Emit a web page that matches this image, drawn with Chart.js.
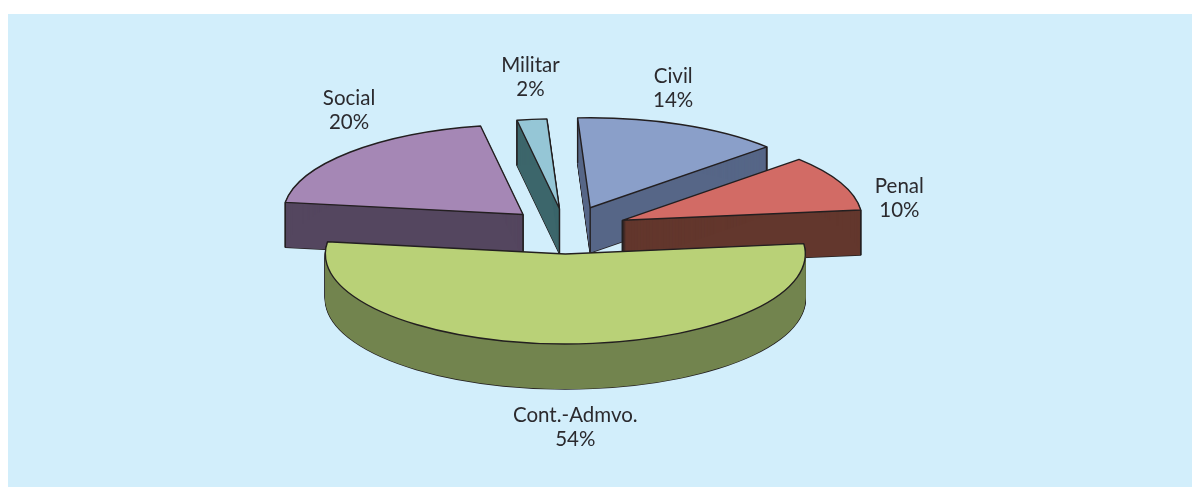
<!DOCTYPE html>
<html>
<head>
<meta charset="utf-8">
<style>
html,body{margin:0;padding:0;background:#fff;width:1192px;height:487px;overflow:hidden}
#panel{position:absolute;left:8px;top:14px;right:0;bottom:0;background:#d2eefb}
#wrap{position:absolute;left:0;top:0;width:1192px;height:487px}
</style>
<script src="https://cdn.jsdelivr.net/npm/chart.js@4"></script>
</head>
<body>
<div id="panel"></div>
<div id="wrap"><canvas id="c" width="1192" height="487"></canvas></div>
<script>
const categories = ['Social', 'Militar', 'Civil', 'Penal', 'Cont.-Admvo.'];
const shares = [20, 2, 14, 10, 54];
const topColors = ['#a587b5', '#95c6d6', '#8a9fc9', '#d26b65', '#b9d177'];
const sideColors = ['#54465f', '#3c666b', '#566687', '#63372d', '#72844e'];
const explode = [238, 228, 256, 248, 256];
const labelDx = [-174, -29, 83, 277, 10];
const labelDy = [-116, -143, -131, -34, 161];

const tilt = 0.375, depth = 45;
const outline = '#231f20';

function sector(ctx, el, dz) {
  const mid = (el.startAngle + el.endAngle) / 2;
  const off = (el.options.offset || 0) / 4;
  const x = el.x + Math.cos(mid) * off;
  const y = el.y + Math.sin(mid) * off * tilt + dz;
  ctx.beginPath();
  ctx.moveTo(x, y);
  ctx.ellipse(x, y, el.outerRadius, el.outerRadius * tilt, 0, el.startAngle, el.endAngle);
  ctx.closePath();
  return { x, y };
}

const pie3d = {
  id: 'pie3d',
  beforeDatasetDraw(chart) {
    const ctx = chart.ctx;
    const arcs = chart.getDatasetMeta(0).data;
    ctx.save();
    ctx.lineJoin = 'round';
    ctx.lineWidth = 1.4;
    arcs.forEach((el, i) => {
      ctx.strokeStyle = outline;
      for (let dz = 1; dz <= depth; dz++) { sector(ctx, el, dz); ctx.stroke(); }
      ctx.fillStyle = sideColors[i];
      for (let dz = 1; dz <= depth; dz++) { sector(ctx, el, dz); ctx.fill(); }
      const s = el.startAngle, e = el.endAngle, r = el.outerRadius;
      const startFace = Math.cos(s) < 0, endFace = Math.cos(e) > 0;
      const tip = sector(ctx, el, 0);
      const edge = (px, py) => { ctx.beginPath(); ctx.moveTo(px, py); ctx.lineTo(px, py + depth); ctx.stroke(); };
      if (startFace || endFace) edge(tip.x, tip.y);
      if (startFace || Math.sin(s) > 0) edge(tip.x + r * Math.cos(s), tip.y + r * tilt * Math.sin(s));
      if (endFace || Math.sin(e) > 0) edge(tip.x + r * Math.cos(e), tip.y + r * tilt * Math.sin(e));
      sector(ctx, el, 0);
      ctx.fillStyle = el.options.backgroundColor;
      ctx.fill();
      ctx.stroke();
    });
    ctx.restore();
    return false;
  },
  afterDatasetsDraw(chart) {
    const ctx = chart.ctx;
    const arcs = chart.getDatasetMeta(0).data;
    ctx.save();
    ctx.fillStyle = '#2b2a2e';
    ctx.font = '20.5px Lato';
    ctx.textAlign = 'center';
    ctx.textBaseline = 'middle';
    arcs.forEach((el, i) => {
      const tip = sector(ctx, el, 0);
      const lx = tip.x + labelDx[i], ly = tip.y + labelDy[i];
      ctx.fillText(categories[i], lx, ly);
      ctx.fillText(shares[i] + '%', lx, ly + 24);
    });
    ctx.restore();
  }
};

new Chart(document.getElementById('c'), {
  type: 'pie',
  data: {
    labels: categories,
    datasets: [{
      data: shares,
      backgroundColor: topColors,
      borderColor: outline,
      offset: explode
    }]
  },
  options: {
    responsive: false,
    animation: false,
    events: [],
    rotation: 277.8,
    radius: 240,
    layout: { padding: { right: 60, bottom: 27 } },
    plugins: { legend: { display: false }, tooltip: { enabled: false } }
  },
  plugins: [pie3d]
});
</script>
</body>
</html>
